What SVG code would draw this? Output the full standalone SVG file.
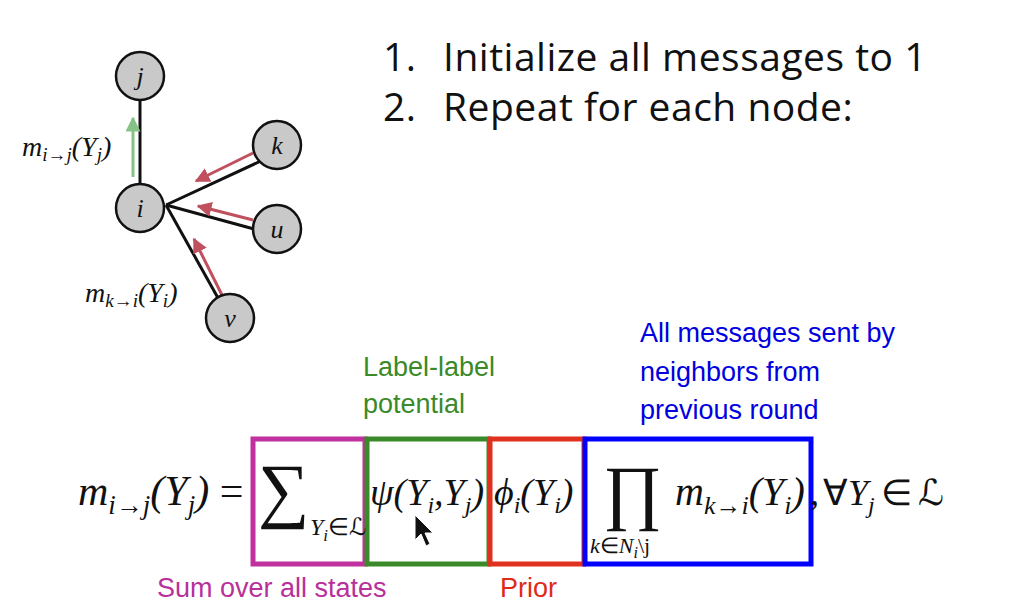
<svg xmlns="http://www.w3.org/2000/svg" width="1020" height="612" viewBox="0 0 1020 612">
<defs>
<marker id="ag" viewBox="0 0 10 10" refX="9" refY="5" markerWidth="5" markerHeight="5" orient="auto"><path d="M0,0 L10,5 L0,10 z" fill="#86c286"/></marker>
<marker id="ar" viewBox="0 0 10 10" refX="9" refY="5" markerWidth="5" markerHeight="5" orient="auto"><path d="M0,0 L10,5 L0,10 z" fill="#c0505e"/></marker>
</defs>
<style>
.node circle{fill:#c9c9c9;stroke:#111;stroke-width:2.5}
.node text{font-family:"Liberation Serif",serif;font-style:italic;font-size:26px;text-anchor:middle;fill:#111}
.edge{stroke:#111;stroke-width:3;fill:none}
.msg-r{stroke:#c0505e;stroke-width:3;fill:none}
.msg-g{stroke:#86c286;stroke-width:3;fill:none}
.math{font-family:"Liberation Serif",serif;font-style:italic;fill:#111}
.up{font-family:"Liberation Serif",serif;fill:#111}
.head{font-family:"Open Sans","Noto Sans",sans-serif;font-size:39px;letter-spacing:0.5px;fill:#111}
.ann{font-family:"Liberation Sans",Arial,sans-serif;font-size:27px}
.box{fill:none;stroke-width:5}
</style>
<rect width="1020" height="612" fill="#fff"/>

<g id="connectors">
<line class="edge" x1="140" y1="100" x2="140" y2="184"/>
<line class="edge" x1="166" y1="205" x2="263" y2="160"/>
<line class="edge" x1="166" y1="205" x2="254" y2="229"/>
<line class="edge" x1="166" y1="205" x2="218" y2="298"/>
<line class="msg-g" x1="133" y1="177" x2="133" y2="118" marker-end="url(#ag)"/>
<line class="msg-r" x1="253" y1="153" x2="196" y2="181" marker-end="url(#ar)"/>
<line class="msg-r" x1="253" y1="220" x2="198" y2="206" marker-end="url(#ar)"/>
<line class="msg-r" x1="222" y1="295" x2="194" y2="239" marker-end="url(#ar)"/>
</g>

<g id="node-j" class="node"><circle cx="140" cy="76" r="24"/><text x="140" y="85">j</text></g>
<g id="node-i" class="node"><circle cx="140" cy="208" r="24"/><text x="140" y="217">i</text></g>
<g id="node-k" class="node"><circle cx="277" cy="145" r="24"/><text x="277" y="154">k</text></g>
<g id="node-u" class="node"><circle cx="277" cy="229" r="24"/><text x="277" y="238">u</text></g>
<g id="node-v" class="node"><circle cx="230" cy="318" r="24"/><text x="230" y="327">v</text></g>

<g id="label-mij">
<text class="math" x="22" y="156" font-size="28">m<tspan font-size="19" dy="5">i→j</tspan><tspan dy="-5">(Y</tspan><tspan font-size="19" dy="5">j</tspan><tspan dy="-5">)</tspan></text>
</g>
<g id="label-mki">
<text class="math" x="85" y="302" font-size="28">m<tspan font-size="19" dy="5">k→i</tspan><tspan dy="-5">(Y</tspan><tspan font-size="19" dy="5">i</tspan><tspan dy="-5">)</tspan></text>
</g>

<g id="steps">
<text class="head" x="383" y="71">1.</text>
<text class="head" x="443" y="71">Initialize all messages to 1</text>
<text class="head" x="383" y="121">2.</text>
<text class="head" x="443" y="121">Repeat for each node:</text>
</g>

<g id="annotations">
<text class="ann" fill="#3a8a2a" x="363" y="376">Label-label</text>
<text class="ann" fill="#3a8a2a" x="363" y="413">potential</text>
<text class="ann" fill="#0000e0" x="640" y="342">All messages sent by</text>
<text class="ann" fill="#0000e0" x="640" y="381">neighbors from</text>
<text class="ann" fill="#0000e0" x="640" y="419">previous round</text>
<text class="ann" fill="#b8309a" x="157" y="597">Sum over all states</text>
<text class="ann" fill="#e02a18" x="500" y="597">Prior</text>
</g>

<g id="boxes">
<rect class="box" stroke="#c0309f" x="253" y="439" width="112" height="125"/>
<rect class="box" stroke="#3a8a2a" x="367" y="439" width="122" height="125"/>
<rect class="box" stroke="#e0301e" x="490" y="439" width="94" height="125"/>
<rect class="box" stroke="#0000ff" x="585" y="439" width="226" height="125"/>
</g>

<g id="equation">
<text class="math" x="78" y="505" font-size="42">m<tspan font-size="27" dy="9">i→j</tspan><tspan dy="-9">(Y</tspan><tspan font-size="27" dy="9">j</tspan><tspan dy="-9">)</tspan><tspan font-style="normal"> =</tspan></text>
<text class="up" x="258" y="514" font-size="72">∑</text>
<text class="math" x="310" y="535" font-size="24">Y<tspan font-size="17" dy="6">i</tspan><tspan dy="-6" font-style="normal">∈ℒ</tspan></text>
<text class="math" x="370" y="505" font-size="38" fill="#3a8a2a">ψ(Y<tspan font-size="24" dy="8">i</tspan><tspan dy="-8">,Y</tspan><tspan font-size="24" dy="8">j</tspan><tspan dy="-8">)</tspan></text>
<text class="math" x="494" y="505" font-size="38" fill="#b02222">ϕ<tspan font-size="24" dy="8">i</tspan><tspan dy="-8">(Y</tspan><tspan font-size="24" dy="8">i</tspan><tspan dy="-8">)</tspan></text>
<text class="up" x="603" y="516" font-size="72">∏</text>
<text class="math" x="590" y="553" font-size="22">k<tspan font-style="normal">∈</tspan>N<tspan font-size="16" dy="5">i</tspan><tspan dy="-5" font-style="normal">\j</tspan></text>
<text class="math" x="675" y="505" font-size="40" fill="#0000e0">m<tspan font-size="26" dy="9">k→i</tspan><tspan dy="-9">(Y</tspan><tspan font-size="26" dy="9">i</tspan><tspan dy="-9">)</tspan></text>
<text class="math" x="810" y="505" font-size="36">,<tspan font-style="normal" dx="4">∀</tspan>Y<tspan font-size="24" dy="8">j</tspan><tspan dy="-8" dx="6" font-style="normal">∈</tspan><tspan dx="6" font-style="normal">ℒ</tspan></text>
</g>

<g id="cursor">
<path d="M415,515 L415,540 L421,534 L426,546 L430,544 L425,533 L433,533 Z" fill="#111" stroke="#fff" stroke-width="1"/>
</g>
</svg>
